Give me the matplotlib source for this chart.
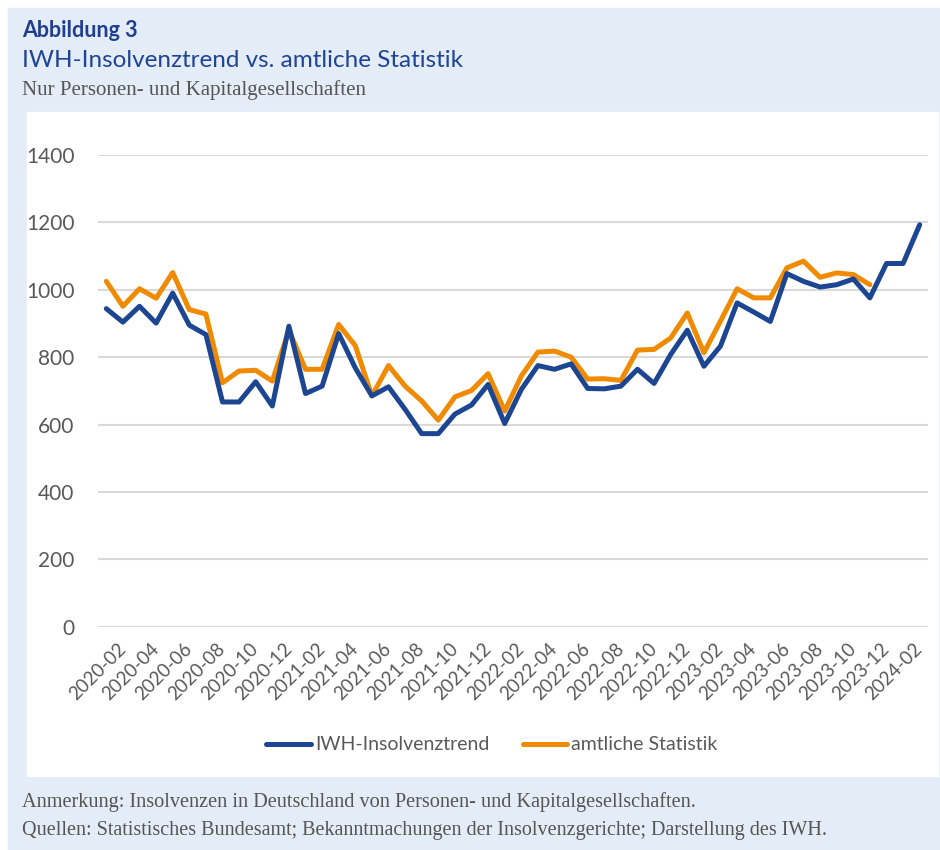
import matplotlib.pyplot as plt
from matplotlib.patches import Rectangle

# monthly data, 2020-01 .. 2024-02
months = [f"{y}-{m:02d}" for y in range(2020, 2025) for m in range(1, 13)][:50]

iwh = [944, 904, 951, 901, 990, 895, 867, 667, 667, 727,
       655, 892, 692, 714, 870, 768, 685, 712, 645, 573,
       573, 631, 658, 719, 603, 704, 775, 764, 780, 707,
       706, 714, 764, 722, 808, 880, 773, 833, 961, 934,
       906, 1048, 1025, 1008, 1015, 1032, 976, 1078, 1078, 1193]

amtlich = [1025, 951, 1003, 975, 1051, 941, 928, 724, 759, 761,
           729, 880, 764, 764, 897, 834, 685, 775, 714, 670,
           613, 682, 701, 751, 640, 744, 815, 818, 800, 735,
           736, 731, 821, 823, 857, 931, 813, 907, 1003, 976,
           976, 1065, 1085, 1037, 1050, 1045, 1015]

series_names = ["IWH-Insolvenztrend", "amtliche Statistik"]
yticks = [0, 200, 400, 600, 800, 1000, 1200, 1400]

BLUE = "#1c4592"
ORANGE = "#f08a00"
BG = "#e4ecf7"
GRAY = "#595959"

W, H = 940, 850
fig = plt.figure(figsize=(W / 100, H / 100), dpi=100)
fig.patch.set_facecolor("white")

def px(x, y):
    # pixel coords (top-left origin) -> figure fraction
    return x / W, 1 - y / H

# background panels
fig.patches.append(Rectangle(px(8, H), (W - 8) / W, (H - 8) / H,
                             transform=fig.transFigure, color=BG, zorder=-10))
fig.patches.append(Rectangle(px(27, 776), (938 - 27) / W, (776 - 112) / H,
                             transform=fig.transFigure, color="white", zorder=-9))

sans = ["Lato", "DejaVu Sans"]
serif = ["Liberation Serif", "DejaVu Serif"]

fig.text(*px(22, 37), "Abbildung 3", family=sans, weight="bold",
         fontsize=15.5, color="#1f3f8f", va="baseline")
fig.text(*px(22, 67), "IWH-Insolvenztrend vs. amtliche Statistik", family=sans,
         fontsize=17.5, color="#1f4596", va="baseline")
fig.text(*px(22, 95), "Nur Personen- und Kapitalgesellschaften", family=serif,
         fontsize=15, color="#555555", va="baseline")
fig.text(*px(22, 807), "Anmerkung: Insolvenzen in Deutschland von Personen- und Kapitalgesellschaften.",
         family=serif, fontsize=14.6, color="#555555", va="baseline")
fig.text(*px(22, 835), "Quellen: Statistisches Bundesamt; Bekanntmachungen der Insolvenzgerichte; Darstellung des IWH.",
         family=serif, fontsize=14.5, color="#555555", va="baseline")

l, b = px(98, 626.7)
r, t = px(928, 155)
ax = fig.add_axes([l, b, r - l, t - b], zorder=1)
ax.set_facecolor("none")

x = list(range(len(months)))
ax.plot(x, iwh, color=BLUE, lw=3.6, label=series_names[0], zorder=3,
        solid_joinstyle="round", solid_capstyle="round")
ax.plot(x[:len(amtlich)], amtlich, color=ORANGE, lw=3.6, label=series_names[1], zorder=2,
        solid_joinstyle="round", solid_capstyle="round")

ax.set_xlim(-0.5, len(months) - 0.5)
ax.set_ylim(0, 1400)
ax.set_yticks(yticks)
ax.set_yticklabels([str(v) for v in yticks], family=sans,
                   fontsize=15, color=GRAY)
ax.set_xticks(x[1::2])
ax.set_xticklabels(months[1::2], rotation=45, ha="right", va="center",
                   rotation_mode="anchor", family=sans,
                   fontsize=13.5, color=GRAY)
ax.tick_params(axis="both", length=0)
ax.tick_params(axis="y", pad=17)
ax.tick_params(axis="x", pad=14)
ax.grid(axis="y", color="#d9d9d9", lw=1.5)
ax.set_axisbelow(True)
for s in ax.spines.values():
    s.set_visible(False)

leg = fig.legend(loc="center", bbox_to_anchor=px(492, 745), ncol=2, frameon=False,
                 prop={"family": sans, "size": 14}, handlelength=2.3,
                 handletextpad=0.2, columnspacing=1.7)
for txt in leg.get_texts():
    txt.set_color(GRAY)

fig.savefig("out.png", dpi=100, facecolor=fig.get_facecolor())
